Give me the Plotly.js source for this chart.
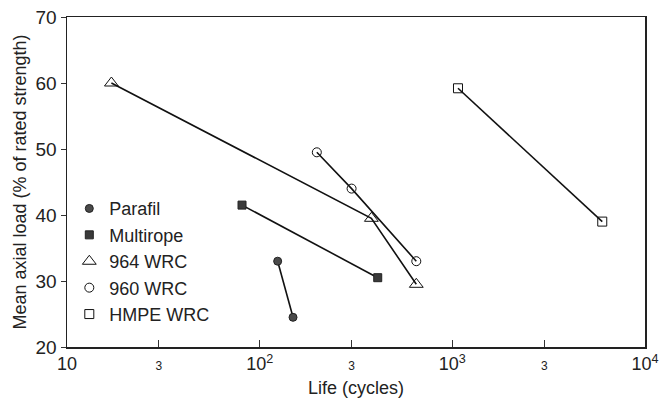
<!DOCTYPE html>
<html><head><meta charset="utf-8">
<script src="https://cdn.plot.ly/plotly-3.0.1.min.js"></script>
<style>html,body{margin:0;padding:0;background:#fff}#c{width:659px;height:401px}</style>
</head><body><div id="c"></div>
<script>
const names = ["Parafil", "Multirope", "964 WRC", "960 WRC", "HMPE WRC"];
const parafilX = [124, 149];      const parafilY = [33, 24.5];
const multiropeX = [81, 410];     const multiropeY = [41.5, 30.5];
const wrc964X = [17, 380, 650];   const wrc964Y = [60, 39.5, 29.5];
const wrc960X = [198, 300, 650];  const wrc960Y = [49.5, 44, 33];
const hmpeX = [1070, 6000];       const hmpeY = [59.2, 39];
const xTickVals = [10, 30, 100, 300, 1000, 3000, 10000];
const xTickText = ["10", "3", "10<sup>2</sup>", "3", "10<sup>3</sup>", "3", "10<sup>4</sup>"];
const yTickVals = [20, 30, 40, 50, 60, 70];

const xs = [parafilX, multiropeX, wrc964X, wrc960X, hmpeX];
const ys = [parafilY, multiropeY, wrc964Y, wrc960Y, hmpeY];
const markers = [
  {symbol: "circle", size: 8, color: "#4a4a4a", line: {color: "#222", width: 1}},
  {symbol: "square", size: 8, color: "#3a3a3a", line: {color: "#222", width: 1}},
  {symbol: "triangle-up-open", size: 12, color: "#111", line: {width: 1}},
  {symbol: "circle-open", size: 9, color: "#111", line: {width: 1}},
  {symbol: "square-open", size: 9, color: "#111", line: {width: 1}}
];
const smallText = xTickText.map(t => t === "3" ? "<span style='font-size:12px'>3</span>" : t);

const traces = [];
for (let i = 0; i < names.length; i++) {
  traces.push({x: xs[i], y: ys[i], mode: "lines", type: "scatter", showlegend: false,
    line: {color: "#111", width: 1.6}, hoverinfo: "skip"});
}
for (let i = 0; i < names.length; i++) {
  traces.push({x: xs[i], y: ys[i], mode: "markers", type: "scatter", name: names[i],
    marker: Object.assign({}, markers[i]), cliponaxis: false});
}

const layout = {
  width: 659, height: 401,
  margin: {l: 67, r: 14, t: 17, b: 54},
  paper_bgcolor: "#fff", plot_bgcolor: "#fff",
  font: {family: "Liberation Sans, Arial, sans-serif", color: "#222", size: 18},
  showlegend: true,
  legend: {x: 0.004, y: 0.475, xanchor: "left", yanchor: "top", bgcolor: "rgba(0,0,0,0)",
    font: {size: 18, color: "#222"}, tracegroupgap: 0, itemwidth: 30},
  xaxis: {type: "log", range: [1, 4], tickvals: xTickVals, ticktext: smallText,
    ticks: "inside", ticklen: 7, tickcolor: "#333", showgrid: false, zeroline: false,
    showline: true, linecolor: "#222", linewidth: 1.5, mirror: true,
    tickfont: {size: 18}, title: {text: "Life (cycles)", font: {size: 18}, standoff: 8}},
  yaxis: {range: [20, 70], tickvals: yTickVals, ticks: "outside", ticklen: 5, tickcolor: "#333",
    showgrid: false, zeroline: false, showline: true, linecolor: "#222", linewidth: 1.5, mirror: true,
    tickfont: {size: 19}, title: {text: "Mean axial load (% of rated strength)", font: {size: 18}, standoff: 4}}
};
Plotly.newPlot("c", traces, layout, {displayModeBar: false, staticPlot: true});
</script></body></html>
